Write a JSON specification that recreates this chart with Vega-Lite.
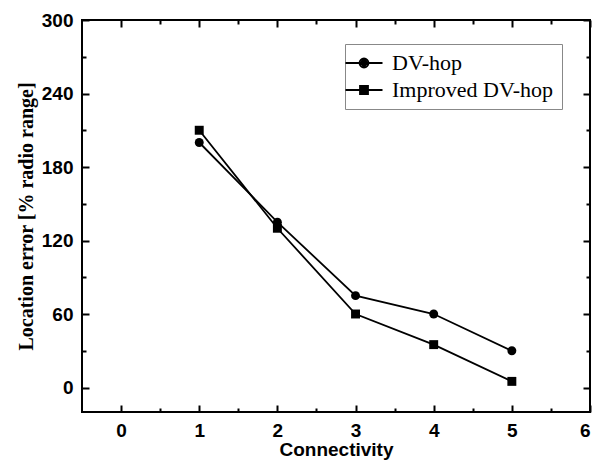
{
  "$schema": "https://vega.github.io/schema/vega-lite/v6.json",
  "width": 508,
  "height": 392,
  "autosize": "none",
  "padding": {"left": 82, "top": 20, "right": 11, "bottom": 51},
  "background": "white",
  "config": {
    "view": {"stroke": "black", "strokeWidth": 2},
    "axis": {"grid": false, "domain": false, "tickColor": "black", "tickWidth": 2, "labelColor": "black", "titleColor": "black", "labelFont": "Liberation Sans", "labelFontWeight": "bold", "labelFontSize": 19}
  },
  "data": {"values": [
    {"c": 1, "err": 200, "series": "DV-hop"},
    {"c": 2, "err": 135, "series": "DV-hop"},
    {"c": 3, "err": 75, "series": "DV-hop"},
    {"c": 4, "err": 60, "series": "DV-hop"},
    {"c": 5, "err": 30, "series": "DV-hop"},
    {"c": 1, "err": 210, "series": "Improved DV-hop"},
    {"c": 2, "err": 130, "series": "Improved DV-hop"},
    {"c": 3, "err": 60, "series": "Improved DV-hop"},
    {"c": 4, "err": 35, "series": "Improved DV-hop"},
    {"c": 5, "err": 5, "series": "Improved DV-hop"}
  ]},
  "resolve": {"axis": {"x": "independent", "y": "independent"}, "scale": {"shape": "independent"}},
  "layer": [
    {
      "mark": {"type": "line", "color": "black", "strokeWidth": 1.8},
      "encoding": {
        "x": {"field": "c", "type": "quantitative", "scale": {"domain": [-0.5, 6], "nice": false, "zero": false},
          "axis": {"orient": "bottom", "values": [0, 1, 2, 3, 4, 5, 6], "tickSize": -7, "labelPadding": 16, "title": "Connectivity", "titleFont": "Liberation Sans", "titleFontWeight": "bold", "titleFontSize": 19, "titlePadding": 0}},
        "y": {"field": "err", "type": "quantitative", "scale": {"domain": [-20, 300], "nice": false, "zero": false},
          "axis": {"orient": "left", "values": [0, 60, 120, 180, 240, 300], "tickSize": -7, "labelPadding": 16, "title": "Location error [% radio range]", "titleFont": "Liberation Serif", "titleFontWeight": "bold", "titleFontSize": 20, "titlePadding": 5}},
        "detail": {"field": "series"}
      }
    },
    {
      "mark": {"type": "point", "filled": true, "color": "black", "size": 80, "opacity": 1},
      "encoding": {
        "x": {"field": "c", "type": "quantitative", "axis": {"orient": "bottom", "values": [0.5, 1.5, 2.5, 3.5, 4.5, 5.5], "tickSize": -4, "labels": false, "title": null}},
        "y": {"field": "err", "type": "quantitative", "axis": {"orient": "left", "values": [30, 90, 150, 210, 270], "tickSize": -4, "labels": false, "title": null}},
        "shape": {"field": "series", "type": "nominal", "scale": {"range": ["circle", "square"]}, "legend": null}
      }
    },
    {
      "mark": {"type": "point", "filled": false, "color": "black", "strokeWidth": 1.8, "opacity": 0},
      "encoding": {
        "x": {"field": "c", "type": "quantitative", "axis": {"orient": "top", "values": [0, 1, 2, 3, 4, 5, 6], "tickSize": -7, "labels": false, "title": null}},
        "y": {"field": "err", "type": "quantitative", "axis": {"orient": "right", "values": [0, 60, 120, 180, 240, 300], "tickSize": -7, "labels": false, "title": null}},
        "shape": {"field": "series", "type": "nominal",
          "scale": {"range": [
            "M-1.85,0H1.85M-0.45,0A0.45,0.45,0,1,1,0.45,0A0.45,0.45,0,1,1,-0.45,0M-0.28,0A0.28,0.28,0,1,1,0.28,0A0.28,0.28,0,1,1,-0.28,0M-0.11,0A0.11,0.11,0,1,1,0.11,0A0.11,0.11,0,1,1,-0.11,0",
            "M-1.85,0H1.85M-0.4,-0.4H0.4V0.4H-0.4Z M-0.25,-0.25H0.25V0.25H-0.25Z M-0.1,-0.1H0.1V0.1H-0.1Z"]},
          "legend": {"title": null, "orient": "none", "legendX": 263, "legendY": 24, "symbolSize": 400, "symbolStrokeWidth": 1.8, "symbolStrokeColor": "black", "symbolOpacity": 1, "labelFont": "Liberation Serif", "labelFontSize": 22, "labelColor": "black", "labelLimit": 400, "labelOffset": 17, "padding": 8, "rowPadding": 5, "strokeColor": "#888", "fillColor": "white"}
        }
      }
    },
    {
      "mark": {"type": "point", "opacity": 0},
      "encoding": {
        "x": {"field": "c", "type": "quantitative", "axis": {"orient": "top", "values": [0.5, 1.5, 2.5, 3.5, 4.5, 5.5], "tickSize": -4, "labels": false, "title": null}},
        "y": {"field": "err", "type": "quantitative", "axis": {"orient": "right", "values": [30, 90, 150, 210, 270], "tickSize": -4, "labels": false, "title": null}}
      }
    }
  ]
}
